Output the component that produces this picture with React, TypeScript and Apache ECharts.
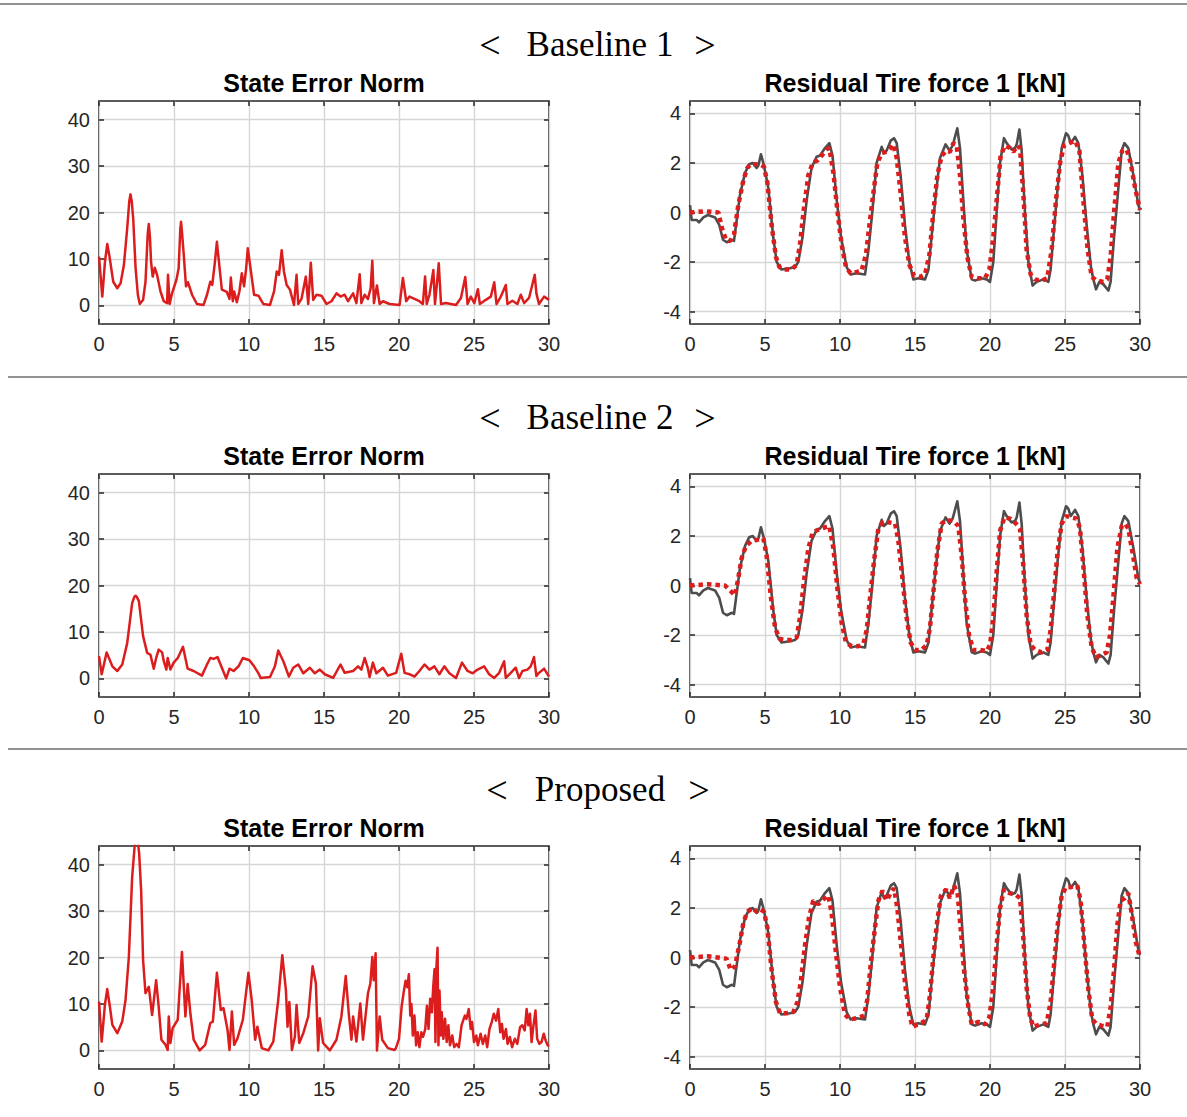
import React, { useEffect, useRef } from "react";
import * as echarts from "echarts";

// ---------- texts & ticks ----------
const sectionTitles = ["Baseline 1", "Baseline 2", "Proposed"];
const leftTitle = "State Error Norm";
const rightTitle = "Residual Tire force 1 [kN]";
const xTicks = [0, 5, 10, 15, 20, 25, 30];
const errorTicks = [0, 10, 20, 30, 40];
const forceTicks = [-4, -2, 0, 2, 4];

// ---------- state error norm [t, value] ----------
const baseline1Error: number[][] = [
  [0, 10.5], [0.22, 1.9], [0.4, 9.5], [0.55, 13.2], [0.7, 10.5], [0.95, 5.1], [1.22, 3.7], [1.44, 4.8], [1.66, 8.7], [1.88, 16.6],
  [2.02, 22.5], [2.1, 23.9], [2.18, 22.5], [2.28, 18.7], [2.44, 8], [2.59, 2.3], [2.72, 0.3], [2.94, 1.2], [3.1, 5.1], [3.25, 15.5], [3.32, 17.5],
  [3.4, 14.5], [3.47, 9.4], [3.58, 6.2], [3.72, 8.1], [3.87, 6.6], [4.1, 3], [4.32, 0.9], [4.54, 0.5], [4.6, 6.6],
  [4.71, 0.3], [4.87, 2.6], [5.16, 5.5], [5.31, 8], [5.42, 16.5], [5.47, 18], [5.54, 15.5], [5.65, 10.9], [5.8, 4.1], [5.93, 5],
  [6.2, 2.3], [6.53, 0.3], [6.97, 0.1], [7.2, 2.3], [7.42, 5.1], [7.55, 4.4], [7.73, 9.4], [7.86, 13.7],
  [8.04, 8], [8.19, 3.4], [8.52, 2.9], [8.7, 1.4], [8.79, 6], [8.92, 0.9], [9.01, 3], [9.19, 0.7],
  [9.36, 3], [9.52, 6.9], [9.67, 4.1], [9.81, 8], [9.92, 12.3], [10.07, 8.7], [10.34, 2.3], [10.63, 2.1],
  [10.96, 0.3], [11.4, 0.1], [11.67, 3], [11.85, 7.3], [12, 6.6], [12.18, 11.9], [12.33, 7.3], [12.51, 4.4],
  [12.73, 3.4], [13, 0.1], [13.17, 6.6], [13.28, 0.3], [13.5, 1.4], [13.79, 6.2], [13.95, 0.3], [14.12, 9.2],
  [14.28, 1.2], [14.5, 2.3], [14.83, 2.1], [15.17, 0.3], [15.5, 0.9], [15.83, 2.6], [16.1, 1.9], [16.38, 2.3],
  [16.6, 0.9], [16.94, 2.6], [17.16, 0.5], [17.38, 6.7], [17.49, 0.5], [17.71, 2.3], [17.93, 1.4], [18.11, 3.7],
  [18.22, 9.6], [18.33, 0.5], [18.53, 4.3], [18.71, 0.3], [18.93, 0.9], [19.37, 0.3], [20.04, 0.1], [20.26, 5.9],
  [20.48, 0.9], [20.7, 1.9], [21.36, 0.9], [21.59, 0.3], [21.74, 6.2], [21.85, 0.3], [22.03, 2.3], [22.29, 7.6],
  [22.4, 0.3], [22.54, 5.1], [22.65, 9.1], [22.8, 0.3], [23.13, 0.5], [23.8, 0.1], [24.13, 1.6], [24.42, 6.1],
  [24.57, 0.3], [24.79, 1.9], [25.02, 0.5], [25.26, 3.5], [25.39, 0.3], [25.79, 1.2], [26.12, 1.9], [26.35, 5],
  [26.5, 0.3], [26.79, 1.9], [27.12, 4.4], [27.23, 0.3], [27.56, 1], [27.89, 0.3], [28.12, 2.3], [28.34, 0.5],
  [28.67, 1.6], [29.05, 6.6], [29.16, 2.6], [29.33, 0.3], [29.67, 1.9], [30, 1.2],
];

const baseline2Error: number[][] = [
  [0, 4.8], [0.18, 0.9], [0.51, 5.6], [0.89, 2.6], [1.22, 1.6], [1.55, 3], [1.88, 7.6], [2.21, 16.2],
  [2.35, 17.5], [2.44, 17.8], [2.53, 17.5], [2.66, 16.6], [2.94, 9.1], [3.21, 5.5], [3.43, 5.1], [3.65, 2.1], [3.81, 4.4], [3.98, 6.2],
  [4.21, 5.6], [4.32, 3.7], [4.49, 1.9], [4.58, 4.4], [4.76, 1.9], [4.98, 3.4], [5.25, 4.4], [5.6, 6.8],
  [5.91, 2.1], [6.31, 1.6], [6.86, 0.6], [7.2, 3], [7.42, 4.4], [7.64, 4.2], [7.9, 4.6], [8.19, 2.3],
  [8.48, 0], [8.7, 2.1], [8.97, 1.6], [9.3, 2.6], [9.59, 4.4], [10.03, 3.9], [10.34, 2.6], [10.63, 1.1],
  [10.78, 0.1], [11.4, 0.3], [11.73, 2.6], [11.95, 6], [12.29, 3.7], [12.66, 0.4], [12.95, 2.3], [13.28, 3],
  [13.62, 1.1], [14.06, 2.3], [14.39, 1.1], [14.72, 1.9], [15.05, 0.9], [15.61, 0.1], [16.1, 3], [16.38, 1.2],
  [16.94, 1.6], [17.27, 2.6], [17.49, 1.9], [17.71, 4.4], [17.93, 2.1], [18.04, 0.3], [18.26, 3.4], [18.49, 1.1],
  [18.93, 2.3], [19.26, 0.6], [19.81, 1.2], [20.15, 5.3], [20.37, 1.2], [20.7, 0.9], [21.03, 0.4], [21.36, 1.6],
  [21.7, 3], [22.03, 1.9], [22.36, 2.6], [22.69, 0.9], [23.02, 2.6], [23.36, 1.1], [23.8, 0.1], [24.2, 3.4],
  [24.57, 1.6], [24.91, 1.1], [25.24, 1.9], [25.68, 2.6], [26.01, 0.9], [26.35, 0.1], [26.68, 1.2], [27.01, 3.7],
  [27.12, 0.1], [27.45, 1.2], [27.78, 2.3], [28, 0.1], [28.23, 1.6], [28.56, 1.9], [28.78, 2.6], [29, 4.6],
  [29.16, 0.5], [29.33, 1.2], [29.67, 2.1], [30, 0.4],
];

const proposedError: number[][] = [
  [0, 10.5], [0.18, 1.9], [0.4, 10], [0.55, 13.2], [0.7, 10], [0.89, 5.5], [1.22, 3.7], [1.55, 6.2], [1.77, 10.9], [1.99, 20.1],
  [2.21, 37.3], [2.39, 44.5], [2.55, 46], [2.68, 42.3], [2.81, 34.4], [2.94, 19.4], [3.1, 12.3], [3.32, 13.7],
  [3.54, 7.6], [3.81, 15.1], [3.98, 9.4], [4.16, 2.3], [4.43, 1.2], [4.58, 0.1], [4.65, 7.3], [4.76, 1.6],
  [4.91, 4.8], [5.25, 6.6], [5.53, 21.2], [5.76, 7.3], [5.91, 14.3], [6.09, 8], [6.31, 2.3], [6.71, 0],
  [7.08, 1.2], [7.42, 5.9], [7.59, 6.2], [7.86, 16.7], [8.12, 8.7], [8.3, 9.1], [8.57, 4.4], [8.7, 0.1],
  [8.86, 8.4], [9.01, 1.2], [9.23, 2.6], [9.59, 6.6], [9.96, 16.7], [10.18, 10.9], [10.41, 2.3], [10.56, 5.1],
  [10.85, 0.5], [11.29, 0], [11.62, 1.9], [11.95, 10.9], [12.22, 20.5], [12.46, 13], [12.57, 5.1], [12.69, 10.4],
  [12.86, 0.1], [13.06, 3], [13.17, 9.8], [13.35, 1.6], [13.62, 3.7], [13.95, 7.3], [14.24, 18.1], [14.46, 14.4],
  [14.61, 0], [14.72, 6.9], [14.94, 1.6], [15.39, 0], [15.83, 2.3], [16.16, 7.3], [16.45, 16], [16.65, 8],
  [16.83, 2.3], [16.94, 7.3], [17.16, 1.9], [17.42, 10.1], [17.6, 2.3], [17.93, 12.3], [18.09, 14.4], [18.22, 20.1],
  [18.31, 15.1], [18.44, 20.9], [18.53, 0], [18.71, 7.3], [18.88, 2.3], [19.26, 0.5], [19.7, 0.1], [19.78, 0.4],
  [20, 2.5], [20.18, 9.6], [20.33, 12.9], [20.44, 15], [20.55, 13.6], [20.66, 16.4], [20.75, 7.5], [20.83, 10],
  [20.92, 3.2], [21.03, 7.5], [21.14, 1.1], [21.25, 3.9], [21.36, 0.7], [21.49, 3.9], [21.6, 2.9], [21.75, 4.6],
  [21.86, 9.6], [21.97, 4.6], [22.08, 11.1], [22.19, 8.2], [22.28, 13.6], [22.37, 17.5], [22.43, 1.8], [22.5, 18.2],
  [22.57, 22.1], [22.63, 1.1], [22.7, 12.9], [22.79, 3.2], [22.85, 8.2], [22.96, 2.5], [23.07, 6.8], [23.18, 1.8],
  [23.29, 5.4], [23.4, 1.1], [23.55, 3.2], [23.68, 0.7], [23.84, 1.4], [23.99, 0.7], [24.17, 5.4], [24.39, 7.5],
  [24.5, 6.8], [24.65, 8.9], [24.78, 4.6], [24.87, 6.1], [25, 1.8], [25.15, 3.2], [25.26, 1.1], [25.44, 3.6],
  [25.59, 1.4], [25.75, 3.2], [25.88, 0.7], [26.03, 4.6], [26.18, 6.1], [26.32, 7.9], [26.47, 6.4], [26.62, 8.9],
  [26.75, 3.9], [26.86, 5.7], [26.97, 2.5], [27.13, 4.6], [27.24, 1.4], [27.39, 2.9], [27.54, 0.7], [27.72, 2.5],
  [27.89, 1.4], [28.07, 5], [28.22, 5.4], [28.38, 4.3], [28.51, 8.9], [28.62, 5.4], [28.73, 7.9], [28.84, 1.8],
  [28.95, 5], [29.1, 8.6], [29.21, 2.5], [29.36, 1.4], [29.5, 1.8], [29.65, 3.6], [29.78, 2.1], [29.91, 1.1], [30, 0.9],
];

// ---------- residual tire force [t, kN] ----------
const trueForce: number[][] = [
  [0, 0.3], [0.11, -0.3], [0.44, -0.3], [0.6, -0.4], [0.89, -0.2], [1.2, -0.1], [1.67, -0.2], [1.95, -0.5],
  [2.2, -1.1], [2.45, -1.2], [2.8, -1.1], [2.93, -1.15], [3.33, 0.7], [3.67, 1.6], [3.95, 1.95], [4.18, 2.0],
  [4.44, 1.8], [4.56, 1.9], [4.73, 2.35], [4.93, 1.9], [5.22, 1.0], [5.55, -1.0], [5.78, -2.0], [6.1, -2.3],
  [6.67, -2.25], [7.0, -2.2], [7.22, -2.0], [7.5, -1.0], [7.78, 0.5], [8.1, 1.8], [8.44, 2.25], [8.67, 2.3],
  [9.0, 2.6], [9.29, 2.8], [9.5, 2.3], [9.78, 0.5], [10.07, -1.0], [10.44, -2.2], [10.7, -2.5], [11.1, -2.45],
  [11.67, -2.5], [11.9, -1.5], [12.15, 0], [12.44, 2.0], [12.78, 2.65], [12.93, 2.4], [13.11, 2.5], [13.38, 2.9],
  [13.6, 3.0], [13.78, 2.8], [14.04, 1.5], [14.33, -0.5], [14.62, -2.0], [14.89, -2.7], [15.22, -2.65], [15.67, -2.7],
  [15.9, -2.3], [16.1, -1.0], [16.4, 0.8], [16.67, 2.2], [17.04, 2.75], [17.3, 2.5], [17.51, 2.7], [17.82, 3.4],
  [18.0, 2.6], [18.22, 0.5], [18.44, -1.5], [18.78, -2.7], [19.0, -2.75], [19.44, -2.65], [19.78, -2.7], [20.0, -2.8],
  [20.22, -2.0], [20.44, 0], [20.67, 2.0], [20.93, 3.0], [21.11, 2.8], [21.44, 2.55], [21.67, 2.6], [21.78, 2.75],
  [21.96, 3.35], [22.11, 2.5], [22.33, 0], [22.56, -2.0], [22.84, -2.95], [23.11, -2.8], [23.56, -2.7], [23.89, -2.8],
  [24.04, -2.3], [24.22, -1.0], [24.51, 1.0], [24.78, 2.6], [25.07, 3.2], [25.22, 3.1], [25.38, 2.8], [25.67, 3.05],
  [25.89, 2.8], [26.16, 1.5], [26.44, -0.5], [26.73, -2.2], [26.89, -2.7], [27.07, -3.1], [27.29, -2.8], [27.56, -2.9],
  [27.89, -3.15], [28.04, -2.8], [28.27, -1.0], [28.56, 1.0], [28.78, 2.5], [28.96, 2.8], [29.22, 2.6], [29.56, 1.5],
  [29.89, 0.3], [30, 0.1],
];

const baseline1Force: number[][] = [
  [0, 0], [1.0, 0.05], [1.9, 0], [2.11, -0.6], [2.4, -1.1], [2.67, -1.15], [2.93, -0.9], [3.22, 0.3],
  [3.56, 1.3], [3.82, 1.8], [4.04, 1.95], [4.33, 1.95], [4.67, 1.95], [4.93, 1.85], [5.16, 1.2], [5.44, -0.5],
  [5.73, -1.8], [5.96, -2.2], [6.27, -2.3], [6.78, -2.3], [7.11, -2.1], [7.33, -1.3], [7.6, 0.2], [7.89, 1.5],
  [8.18, 2.0], [8.49, 2.1], [8.78, 2.3], [9.11, 2.55], [9.29, 2.6], [9.56, 1.6], [9.84, 0], [10.11, -1.3],
  [10.4, -2.2], [10.7, -2.45], [11.11, -2.4], [11.44, -2.35], [11.73, -1.7], [12.0, -0.3], [12.27, 1.0], [12.49, 2.0],
  [12.78, 2.4], [13.11, 2.45], [13.38, 2.6], [13.56, 2.75], [13.78, 2.2], [14.04, 0.8], [14.33, -1.0], [14.62, -2.1],
  [14.93, -2.55], [15.33, -2.6], [15.67, -2.5], [15.96, -1.7], [16.22, 0], [16.49, 1.5], [16.78, 2.3], [17.11, 2.5],
  [17.33, 2.45], [17.56, 2.8], [17.78, 2.7], [18.0, 1.5], [18.22, -0.2], [18.49, -1.8], [18.78, -2.6], [19.22, -2.65],
  [19.67, -2.65], [19.96, -2.3], [20.22, -1.0], [20.49, 0.8], [20.71, 2.3], [21.0, 2.7], [21.33, 2.6], [21.56, 2.45],
  [21.82, 2.7], [22.0, 2.6], [22.22, 0.8], [22.44, -1.5], [22.71, -2.5], [23.0, -2.7], [23.44, -2.75], [23.82, -2.65],
  [24.11, -1.5], [24.4, 0.5], [24.67, 2.0], [24.93, 2.7], [25.29, 2.8], [25.67, 2.9], [25.96, 2.5], [26.22, 0.5],
  [26.51, -1.5], [26.78, -2.6], [27.11, -2.75], [27.56, -2.8], [27.82, -2.7], [28.04, -1.8], [28.27, 0], [28.56, 2.0],
  [28.82, 2.5], [29.11, 2.55], [29.38, 2.0], [29.67, 1.0], [30, 0.1],
];

const baseline2Force: number[][] = [
  [0, 0], [1.2, 0.05], [2.33, 0], [2.67, -0.2], [3.0, -0.4], [3.22, 0.3], [3.44, 1.1], [3.73, 1.6],
  [4.11, 1.8], [4.56, 1.85], [4.89, 1.9], [5.11, 1.2], [5.4, -0.5], [5.67, -1.7], [5.96, -2.15], [6.33, -2.2],
  [6.78, -2.2], [7.11, -2.1], [7.33, -1.3], [7.6, 0.2], [7.89, 1.5], [8.18, 2.15], [8.56, 2.25], [9.0, 2.35],
  [9.29, 2.4], [9.56, 1.5], [9.84, -0.2], [10.11, -1.5], [10.4, -2.3], [10.78, -2.45], [11.22, -2.45], [11.56, -2.35],
  [11.78, -1.8], [12.0, -0.5], [12.27, 1.0], [12.56, 2.3], [12.84, 2.55], [13.22, 2.55], [13.67, 2.5], [13.89, 1.8],
  [14.16, 0.3], [14.44, -1.3], [14.71, -2.3], [15.0, -2.6], [15.44, -2.6], [15.78, -2.4], [16.0, -1.7], [16.22, -0.3],
  [16.49, 1.4], [16.78, 2.5], [17.11, 2.65], [17.56, 2.6], [17.89, 2.4], [18.11, 1.2], [18.33, -0.5], [18.6, -2.0],
  [18.89, -2.6], [19.33, -2.6], [19.78, -2.65], [20.0, -2.4], [20.22, -1.3], [20.44, 0.5], [20.67, 2.2], [20.96, 2.75],
  [21.33, 2.7], [21.73, 2.5], [22.0, 2.3], [22.22, 0.8], [22.44, -1.2], [22.71, -2.4], [23.0, -2.6], [23.44, -2.7],
  [23.82, -2.6], [24.04, -1.8], [24.27, -0.3], [24.51, 1.4], [24.78, 2.5], [25.07, 2.8], [25.44, 2.75], [25.78, 2.7],
  [26.0, 2.3], [26.22, 0.8], [26.49, -1.2], [26.78, -2.5], [27.07, -2.9], [27.44, -2.8], [27.78, -2.7], [28.0, -2.0],
  [28.22, -0.5], [28.49, 1.5], [28.78, 2.4], [29.0, 2.5], [29.22, 2.3], [29.51, 1.3], [29.78, 0.3], [30, 0.05],
];

const proposedForce: number[][] = [
  [0, 0], [1.2, 0.05], [2.44, -0.05], [2.71, -0.5], [3.0, -0.35], [3.29, 0.5], [3.56, 1.4], [3.82, 1.85],
  [4.18, 2.0], [4.44, 1.85], [4.67, 1.95], [4.93, 1.85], [5.16, 1.2], [5.44, -0.5], [5.73, -1.8], [6.0, -2.25],
  [6.44, -2.25], [6.89, -2.2], [7.16, -1.8], [7.38, -1.0], [7.67, 0.5], [7.93, 1.6], [8.22, 2.3], [8.56, 2.15],
  [8.89, 2.35], [9.22, 2.5], [9.44, 1.8], [9.71, 0.3], [10.0, -1.2], [10.33, -2.3], [10.67, -2.5], [11.11, -2.45],
  [11.6, -2.35], [11.82, -1.7], [12.04, -0.3], [12.33, 1.2], [12.56, 2.3], [12.84, 2.7], [13.11, 2.3], [13.38, 2.6],
  [13.6, 2.8], [13.82, 2.0], [14.07, 0.5], [14.33, -1.0], [14.62, -2.3], [14.84, -2.8], [15.16, -2.7], [15.56, -2.6],
  [15.78, -2.5], [16.0, -1.5], [16.22, 0], [16.49, 1.5], [16.73, 2.5], [17.07, 2.75], [17.33, 2.4], [17.6, 2.9],
  [17.84, 2.6], [18.04, 1.2], [18.27, -0.5], [18.56, -2.0], [18.78, -2.7], [19.22, -2.6], [19.67, -2.7], [19.96, -2.4],
  [20.22, -1.2], [20.44, 0.5], [20.67, 2.0], [20.93, 2.75], [21.29, 2.6], [21.67, 2.55], [22.0, 2.4], [22.22, 0.8],
  [22.44, -1.2], [22.67, -2.4], [22.89, -2.8], [23.33, -2.7], [23.78, -2.65], [24.04, -1.8], [24.27, -0.3], [24.51, 1.3],
  [24.78, 2.5], [25.07, 2.85], [25.44, 2.85], [25.82, 2.9], [26.04, 2.3], [26.29, 0.5], [26.56, -1.3], [26.82, -2.5],
  [27.11, -2.7], [27.44, -2.75], [27.82, -2.8], [28.04, -2.0], [28.27, -0.5], [28.49, 1.3], [28.71, 2.3], [29.0, 2.4],
  [29.22, 2.6], [29.44, 1.8], [29.73, 0.6], [30, 0],
];

const errorSeries = [baseline1Error, baseline2Error, proposedError];
const estimateSeries = [baseline1Force, baseline2Force, proposedForce];

// ---------- styling / layout ----------
const RED = "#dc1d1d";
const GRAY = "#4d4d4d";
const AXIS = "#262626";
const GRID = "#d6d6d6";
const SANS = "Liberation Sans, Arial, Helvetica, sans-serif";
const SERIF = "Liberation Serif, Times New Roman, serif";
const ROW_TOPS = [101, 474, 846];
const PLOT_H = 223;
const PLOT_W = 450;
const COL_LEFTS = [99, 690];
const SEP_YS = [4, 377, 749];

function buildOption() {
  const grid: any[] = [];
  const xAxis: any[] = [];
  const yAxis: any[] = [];
  const series: any[] = [];
  const graphic: any[] = [];

  SEP_YS.forEach((y, i) => {
    graphic.push({
      type: "line",
      shape: { x1: i === 0 ? 0 : 8, y1: y, x2: 1187, y2: y },
      style: { stroke: "#6e6e6e", lineWidth: 1.5 },
    });
  });

  ROW_TOPS.forEach((top, r) => {
    const headY = top - 57;
    graphic.push({
      type: "text",
      x: 600, y: headY,
      style: { text: sectionTitles[r], font: `35px ${SERIF}`, fill: "#000", textAlign: "center", textVerticalAlign: "middle" },
    });
    const lx = r === 2 ? 497 : 490;
    const rx = r === 2 ? 699 : 705;
    graphic.push({
      type: "text", x: lx, y: headY + 1,
      style: { text: "<", font: `38px ${SERIF}`, fill: "#000", textAlign: "center", textVerticalAlign: "middle" },
    });
    graphic.push({
      type: "text", x: rx, y: headY + 1,
      style: { text: ">", font: `38px ${SERIF}`, fill: "#000", textAlign: "center", textVerticalAlign: "middle" },
    });

    COL_LEFTS.forEach((left, c) => {
      const g = grid.length;
      grid.push({
        left, top, width: PLOT_W, height: PLOT_H,
        show: true, borderColor: AXIS, borderWidth: 1.6, backgroundColor: "#ffffff",
      });
      graphic.push({
        type: "text", x: left + PLOT_W / 2, y: top - 18,
        style: { text: c === 0 ? leftTitle : rightTitle, font: `bold 25px ${SANS}`, fill: "#000", textAlign: "center", textVerticalAlign: "middle" },
      });

      const isErr = c === 0;
      const yMin = isErr ? -4 : -4.5;
      const yMax = isErr ? 44 : 4.5;
      const yTicks = isErr ? errorTicks : forceTicks;
      const tickStyle = { show: true, inside: true, length: 5, lineStyle: { color: AXIS, width: 1.5 } };

      xAxis.push({
        type: "value", gridIndex: g, position: "bottom", min: 0, max: 30, interval: 5,
        axisLine: { show: false, onZero: false },
        axisTick: { ...tickStyle, customValues: xTicks },
        axisLabel: { show: true, customValues: xTicks, color: AXIS, fontSize: 20, fontFamily: SANS, margin: 10 },
        splitLine: { show: true, lineStyle: { color: GRID, width: 1.4 } },
      });
      xAxis.push({
        type: "value", gridIndex: g, position: "top", min: 0, max: 30, interval: 5,
        axisLine: { show: false, onZero: false },
        axisTick: { ...tickStyle, customValues: xTicks },
        axisLabel: { show: false },
        splitLine: { show: false },
      });
      yAxis.push({
        type: "value", gridIndex: g, position: "left", min: yMin, max: yMax,
        axisLine: { show: false, onZero: false },
        axisTick: { ...tickStyle, customValues: yTicks },
        axisLabel: { show: true, customValues: yTicks, color: AXIS, fontSize: 20, fontFamily: SANS, margin: 9 },
        splitLine: { show: true, lineStyle: { color: GRID, width: 1.4 } },
      });
      yAxis.push({
        type: "value", gridIndex: g, position: "right", min: yMin, max: yMax,
        axisLine: { show: false, onZero: false },
        axisTick: { ...tickStyle, customValues: yTicks },
        axisLabel: { show: false },
        splitLine: { show: false },
      });

      const xi = 2 * g;
      const yi = 2 * g;
      if (isErr) {
        series.push({
          type: "line", xAxisIndex: xi, yAxisIndex: yi, data: errorSeries[r],
          showSymbol: false, symbol: "none", clip: true,
          lineStyle: { color: RED, width: 2.5, join: "round" },
        });
      } else {
        series.push({
          type: "line", xAxisIndex: xi, yAxisIndex: yi, data: trueForce,
          showSymbol: false, symbol: "none", clip: true,
          lineStyle: { color: GRAY, width: 2.6, join: "round" },
        });
        series.push({
          type: "line", xAxisIndex: xi, yAxisIndex: yi, data: estimateSeries[r],
          showSymbol: false, symbol: "none", clip: true,
          lineStyle: { color: RED, width: 4.5, type: [4.5, 4], cap: "butt" },
        });
      }
    });
  });

  return {
    animation: false,
    backgroundColor: "#ffffff",
    grid, xAxis, yAxis, series, graphic,
  };
}

export default function App() {
  const ref = useRef<HTMLDivElement>(null);
  useEffect(() => {
    if (!ref.current) return;
    const chart = echarts.init(ref.current, undefined, { renderer: "svg" });
    chart.setOption(buildOption() as any);
    return () => chart.dispose();
  }, []);
  return (
    <div
      ref={ref}
      style={{ position: "absolute", left: 0, top: 0, width: 1187, height: 1117 }}
    />
  );
}
